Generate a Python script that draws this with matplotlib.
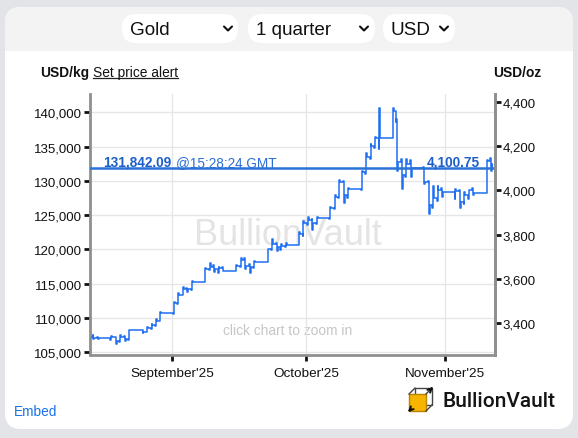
import matplotlib
matplotlib.use('Agg')
import matplotlib.pyplot as plt
import matplotlib.ticker as mticker
import matplotlib.transforms as mtransforms
from matplotlib.patches import FancyBboxPatch, Rectangle
import pandas as pd

plt.rcParams['font.family'] = ['Liberation Sans', 'DejaVu Sans']

# ---------------- data (USD/kg) ----------------
trade_days = pd.bdate_range('2025-08-14', '2025-11-11')
day_open = [107300, 107150, 107100, 107200, 106600, 107300, 106900,
            108200, 108000, 108600, 109000, 109600,
            110700, 112200, 113400, 114300, 114200,
            115300, 117100, 117500, 117200, 117300,
            116900, 117600, 118500, 117600, 117500,
            118200, 120000, 120800, 120300, 120500,
            120700, 122300, 123800, 124300, 123900,
            124600, 126000, 127600, 129800, 128000,
            128800, 131300, 133500, 135100, 136200,
            136300, 138600, 132800, 130800, 132500,
            131900, 129800, 126500, 127500, 128600,
            128400, 128500, 126900, 127900, 128600,
            128300, 132900]
day_high = [107500, 107300, 107400, 107300, 107500, 107400, 108300,
            108300, 108700, 109200, 109800, 110900,
            112300, 113600, 114500, 114400, 115400,
            117300, 118000, 117700, 117500, 117500,
            117800, 118800, 118700, 117900, 118300,
            120100, 121500, 121000, 120800, 120900,
            122500, 124200, 124700, 124500, 124700,
            126200, 127900, 130100, 130000, 129000,
            131500, 134000, 135400, 136400, 140700,
            140700, 139000, 133200, 133200, 133000,
            132000, 130000, 129300, 129200, 129000,
            128800, 128600, 128400, 128700, 128900,
            133000, 133300]
day_low = [107000, 106900, 106800, 106250, 106500, 106700, 106800,
           107800, 107900, 108400, 108900, 109500,
           110600, 112000, 113300, 113800, 114100,
           115200, 117000, 116700, 116600, 116800,
           116800, 117500, 117100, 116600, 117300,
           118100, 119900, 119800, 119900, 120300,
           120600, 122000, 123600, 122900, 123700,
           124500, 125900, 127500, 126800, 127500,
           128700, 131000, 133200, 134800, 134600,
           136200, 131500, 128800, 130500, 130600,
           129500, 125100, 126000, 127000, 127700,
           127400, 126100, 126700, 127300, 128000,
           128200, 131500]
day_close = [107150, 107100, 107200, 106600, 107300, 106900, 108200,
             108000, 108600, 109000, 109600, 110700,
             112200, 113400, 114300, 114200, 115300,
             117100, 117500, 117200, 117300, 116900,
             117600, 118500, 117600, 117500, 118200,
             120000, 120800, 120300, 120500, 120700,
             122300, 123800, 124300, 123900, 124600,
             126000, 127600, 129800, 128000, 128800,
             131300, 133500, 135100, 136200, 136300,
             140200, 132800, 130800, 132500, 131900,
             129800, 126500, 127500, 128600, 128400,
             128500, 126900, 127900, 128600, 128300,
             132900, 132400]
last_time = pd.Timestamp('2025-11-11 15:28:24')
last_price_kg = 131842.09
last_price_oz = 4100.75
kg_per_oz = 32.1507466

yticks_kg = [105000, 110000, 115000, 120000, 125000, 130000, 135000, 140000]
yticks_oz = [3400, 3600, 3800, 4000, 4200, 4400]
month_ticks = pd.to_datetime(['2025-09-01', '2025-10-01', '2025-11-01'])
month_labels = ["September'25", "October'25", "November'25"]

# ---------------- build intraday path ----------------
offsets = [0.02, 0.22, 0.42, 0.62]
times, vals = [], []
for d, o, h, l, c in zip(trade_days, day_open, day_high, day_low, day_close):
    seq = [o, l, h, c] if c >= o else [o, h, l, c]
    for f, v in zip(offsets, seq):
        times.append(d + pd.Timedelta(days=f))
        vals.append(v)
times.append(last_time)
vals.append(last_price_kg)

W, H = 578, 439
fig = plt.figure(figsize=(W / 100, H / 100), dpi=100)
fig.patch.set_facecolor('#e3e4e7')

# ---------------- widget background ----------------
bg = fig.add_axes([0, 0, 1, 1], zorder=0)
bg.set_xlim(0, W)
bg.set_ylim(H, 0)
bg.axis('off')
bg.add_patch(FancyBboxPatch((5, 8), 568, 422, boxstyle='round,pad=0,rounding_size=16',
                            facecolor='white', edgecolor='none'))
bg.add_patch(FancyBboxPatch((5, 8), 568, 44, boxstyle='round,pad=0,rounding_size=16',
                            facecolor='#f3f3f3', edgecolor='none'))
bg.add_patch(Rectangle((5, 30), 568, 22, facecolor='#f3f3f3', edgecolor='none'))

pills = [(122, 238, 'Gold', 228), (248, 375, '1 quarter', 364), (383, 455, 'USD', 444)]
for x0, x1, label, chev in pills:
    bg.add_patch(FancyBboxPatch((x0, 15), x1 - x0, 29, boxstyle='round,pad=0,rounding_size=14',
                                facecolor='white', edgecolor='none'))
    bg.text(x0 + 8, 30.5, label, fontsize=13.6, va='center', ha='left', color='#111')
    bg.plot([chev - 4, chev, chev + 4], [27.5, 31.5, 27.5], color='#111', lw=1.5,
            solid_capstyle='round', solid_joinstyle='round')

bg.text(40.5, 72.7, 'USD/kg', fontsize=9.9, fontweight='bold', va='center', ha='left', color='#111')
t_alert = bg.text(93, 72.7, 'Set price alert', fontsize=9.9, va='center', ha='left', color='#111')
bg.text(541, 72.7, 'USD/oz', fontsize=9.9, fontweight='bold', va='center', ha='right', color='#111')
bg.text(14, 412, 'Embed', fontsize=9.9, va='center', ha='left', color='#1a73e8')

# logo
bg.add_patch(Rectangle((415, 389), 17, 17, facecolor='none', edgecolor='#444', lw=1))
bg.add_patch(Rectangle((409, 395), 17, 17, facecolor='#f7b500', edgecolor='#b98400', lw=1))
for (xa, ya), (xb, yb) in [((409, 395), (415, 389)), ((426, 395), (432, 389)), ((426, 412), (432, 406))]:
    bg.plot([xa, xb], [ya, yb], color='#444', lw=1)
bg.annotate('', xy=(435, 386), xytext=(428, 393),
            arrowprops=dict(arrowstyle='->', color='#111', lw=1.4, mutation_scale=7))
bg.annotate('', xy=(406, 415), xytext=(413, 408),
            arrowprops=dict(arrowstyle='->', color='#111', lw=1.4, mutation_scale=7))
bg.text(442, 402, 'BullionVault', fontsize=15, family=['Roboto', 'DejaVu Sans'],
        fontweight='medium', va='center', ha='left', color='#141414')

# ---------------- chart ----------------
left, right, top, bottom = 90, 495, 95, 355.5
ax = fig.add_axes([left / W, 1 - bottom / H, (right - left) / W, (bottom - top) / H], zorder=1)
ax.set_facecolor('white')
ax.set_xlim(pd.Timestamp('2025-08-13 15:50'), pd.Timestamp('2025-11-12 06:15'))
ax.set_ylim(104680, 142670)

ax.set_yticks(yticks_kg)
ax.yaxis.set_major_formatter(mticker.FuncFormatter(lambda v, p: f'{v:,.0f}'))
ax.set_xticks(month_ticks)
ax.set_xticklabels(month_labels)
ax.grid(True, color='#e6e6e6', lw=1)
ax.set_axisbelow(True)

for s in ['left', 'bottom', 'right']:
    ax.spines[s].set_color('#8f8f8f')
    ax.spines[s].set_linewidth(2)
ax.spines['top'].set_visible(False)

ax.tick_params(axis='y', which='major', direction='out', length=4, width=2, color='#111',
               pad=1.5, labelsize=9.5, labelcolor='#111')
ax.tick_params(axis='x', which='major', direction='out', length=4, width=2, color='#111',
               pad=5, labelsize=9.7, labelcolor='#111')

ax.text(0.489, 0.459, 'BullionVault', transform=ax.transAxes, fontsize=26, color='#e4e4e4',
        ha='center', va='center', zorder=0.5)
ax.text(0.489, 0.094, 'click chart to zoom in', transform=ax.transAxes, fontsize=9.9,
        color='#c6c6c6', ha='center', va='center', zorder=0.5)

ax.plot(times, vals, drawstyle='steps-post', color='#1f6ff2', lw=1.1, zorder=3)
ax.axhline(last_price_kg, color='#2a72d6', lw=1.8, zorder=4)

blend = mtransforms.blended_transform_factory(ax.transAxes, ax.transData)
t1 = ax.annotate(f'{last_price_kg:,.2f}', xy=(0.032, last_price_kg), xycoords=blend,
                 xytext=(0, 4.6), textcoords='offset points', fontsize=9.8, fontweight='bold',
                 color='#1d5fc9', va='center', ha='left', zorder=5)
ax.annotate('@' + last_time.strftime('%H:%M:%S') + ' GMT', xy=(1, 0.5), xycoords=t1,
            xytext=(3.5, 0), textcoords='offset points', fontsize=9.8, color='#2b6fd6',
            va='center', ha='left', zorder=5)
ax.annotate(f'{last_price_oz:,.2f}', xy=(0.963, last_price_kg), xycoords=blend,
            xytext=(0, 4.6), textcoords='offset points', fontsize=9.8, fontweight='bold',
            color='#1d5fc9', va='center', ha='right', zorder=5)

ax2 = ax.twinx()
ax2.set_ylim(ax.get_ylim()[0] / kg_per_oz, ax.get_ylim()[1] / kg_per_oz)
ax2.set_yticks(yticks_oz)
ax2.yaxis.set_major_formatter(mticker.FuncFormatter(lambda v, p: f'{v:,.0f}'))
for s in ['left', 'bottom', 'top']:
    ax2.spines[s].set_visible(False)
ax2.spines['right'].set_color('#8f8f8f')
ax2.spines['right'].set_linewidth(2)
ax2.tick_params(axis='y', direction='out', length=4, width=2, color='#111', pad=1.5,
                labelsize=9.5, labelcolor='#111')

# underline for "Set price alert"
fig.canvas.draw()
bb = t_alert.get_window_extent(fig.canvas.get_renderer())
bg.plot([bb.x0, bb.x1], [78.5, 78.5], color='#222', lw=0.9)

fig.savefig('out.png', dpi=100)
